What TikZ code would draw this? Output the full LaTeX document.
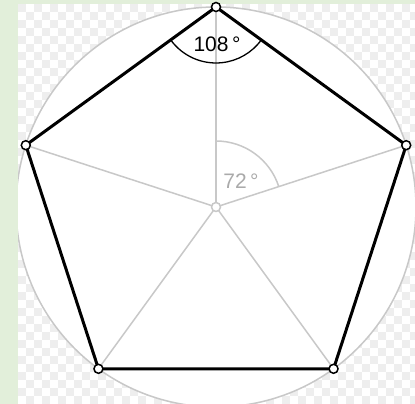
\documentclass[tikz,border=0pt]{standalone}
\usepackage{fontspec}
\setmainfont{Liberation Sans}
\definecolor{frameg}{RGB}{226,239,218}
\definecolor{chk}{RGB}{238,238,238}
\definecolor{lgray}{RGB}{200,200,200}
\definecolor{tgray}{RGB}{170,170,170}
\tikzset{
  edge/.style={black, line width=3pt, line join=round},
  spoke/.style={lgray, line width=1.5pt},
  vtx/.style={circle, draw=black, fill=white, line width=1.5pt, minimum size=9pt, inner sep=0pt},
  ctr/.style={circle, draw=lgray, fill=white, line width=1.5pt, minimum size=9pt, inner sep=0pt},
  lbl/.style={font=\fontsize{21}{21}\selectfont, inner sep=0pt}
}
\begin{document}
\begin{tikzpicture}[x=1pt,y=1pt]
\useasboundingbox (0,0) rectangle (415,404);
\fill[frameg] (0,0) rectangle (415,404);
\begin{scope}
\clip (18,0) rectangle (415,400);
\fill[white] (18,0) rectangle (415,400);
\foreach \i in {0,...,49}{
  \pgfmathtruncatemacro\off{mod(\i,2)*8}
  \foreach \j in {0,...,24}{
    \fill[chk] (18+8*\i, 400-16*\j-\off) rectangle ++(8,-8);
  }
}
\end{scope}
\coordinate (C) at (216,197);
\foreach \k/\a in {1/90,2/162,3/234,4/306,5/18}{
  \coordinate (v\k) at ([shift={(C)}]\a:200);
}
\begin{scope}
\clip (18,0) rectangle (415,400);
\draw[lgray, line width=1.5pt, fill=white] (C) circle (200);
\end{scope}
\foreach \k in {1,...,5}{\draw[spoke] (C) -- (v\k);}
\draw[spoke] ([shift={(C)}]90:66) arc (90:18:66);
\draw[black, line width=1.3pt] ([shift={(v1)}]216:56) arc (216:324:56);
\draw[edge] (v1) -- (v2) -- (v3) -- (v4) -- (v5) -- cycle;
\node[ctr] (c) at (C) {};
\foreach \k in {1,...,5}{\node[vtx] (n\k) at (v\k) {};}
\node[lbl] (l108) at (217,360) {108\,°};
\node[lbl, text=tgray] (l72) at (241,223) {72\,°};
\end{tikzpicture}
\end{document}
